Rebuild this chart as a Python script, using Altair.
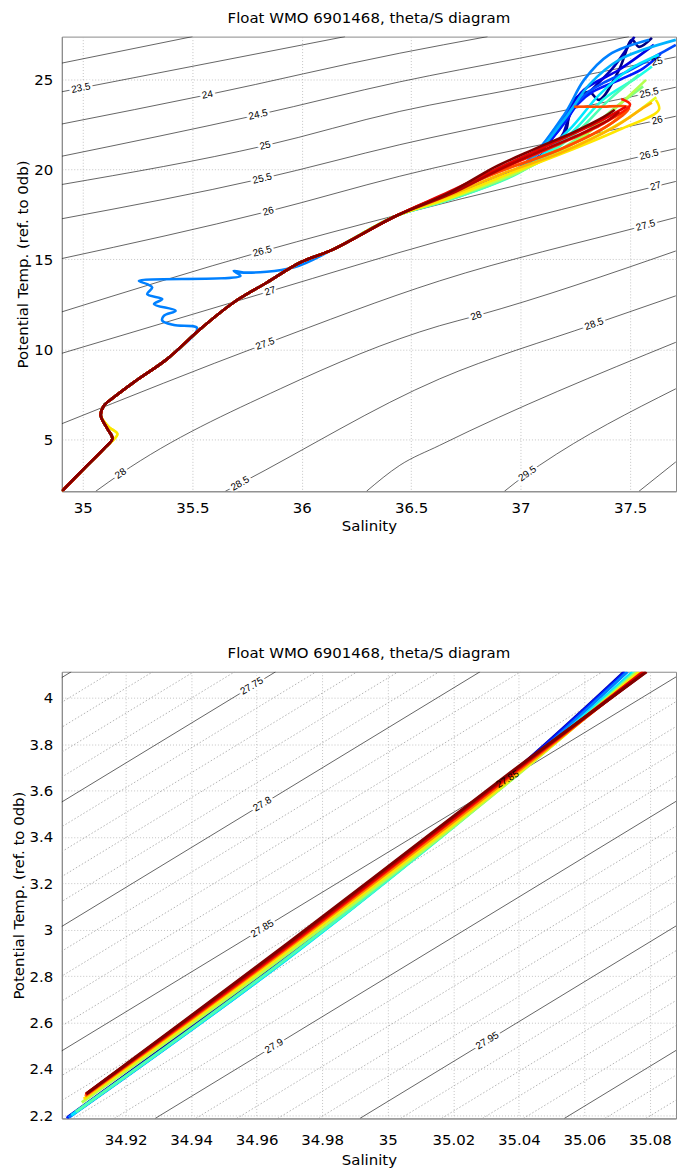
import altair as alt
import pandas as pd

TITLE = "Float WMO 6901468, theta/S diagram"
X_TITLE = "Salinity"
Y_TITLE = "Potential Temp. (ref. to 0db)"
FONT = "DejaVu Sans"

# ---------------- profile colours (jet colormap, early cycles -> late cycles)
prof_ids = ["p%02d" % k for k in range(21)]
prof_colors = ["#000080", "#0000b3", "#0000e6", "#001aff", "#004dff", "#0080ff", "#00b3ff",
               "#00e6ff", "#1affe6", "#4dffb3", "#80ff80", "#b3ff4d", "#e6ff1a", "#ffe600",
               "#ffb300", "#ff8000", "#ff4d00", "#ff1a00", "#e60000", "#b30000", "#800000"]

# ---------------- TOP PANEL
top_x_dom = [34.904, 37.71]
top_y_dom = [2.12, 27.36]
top_x_ticks = [35, 35.5, 36, 36.5, 37, 37.5]
top_y_ticks = [5, 10, 15, 20, 25]

# shared deep section (salinity, potential temperature)
deep_s = [34.904, 35.006, 35.097, 35.135, 35.112, 35.082, 35.097, 35.143, 35.234, 35.386,
          35.537, 35.689, 35.841, 35.993, 36.144, 36.43]
deep_t = [2.12, 3.38, 4.49, 5.04, 5.59, 6.33, 6.88, 7.35, 8.18, 9.47,
          11.13, 12.6, 13.71, 14.82, 15.55, 17.40]
# variant with the warm/salty blip near 5 degC (yellow cycles)
blip_s = [34.904, 35.006, 35.097, 35.158, 35.118, 35.082, 35.097, 35.143, 35.234, 35.386,
          35.537, 35.689, 35.841, 35.993, 36.144, 36.43]
blip_t = [2.12, 3.38, 4.49, 5.30, 5.70, 6.33, 6.88, 7.35, 8.18, 9.47,
          11.13, 12.6, 13.71, 14.82, 15.55, 17.40]
# profile with the fresh intrusion (deep section up to 9.5 degC, then this)
intr_s = [34.904, 35.006, 35.097, 35.135, 35.112, 35.082, 35.097, 35.143, 35.234, 35.386,
          35.522, 35.416, 35.363, 35.37, 35.424, 35.325, 35.363, 35.294, 35.317, 35.294,
          35.256, 35.72, 35.689, 35.735, 35.962, 36.144, 36.43]
intr_t = [2.12, 3.38, 4.49, 5.04, 5.59, 6.33, 6.88, 7.35, 8.18, 9.47,
          11.18, 11.35, 11.59, 11.86, 12.14, 12.51, 12.79, 13.06, 13.43, 13.62,
          13.80, 14.08, 14.35, 14.26, 14.54, 15.55, 17.40]

# upper (warm) sections of each profile
up_s = {
    "p00": [36.676, 36.995, 37.199, 37.222, 37.245, 37.313, 37.359, 37.450, 37.509, 37.541, 37.600],
    "p01": [36.676, 36.995, 37.186, 37.213, 37.240, 37.290, 37.340, 37.420, 37.480, 37.520],
    "p02": [36.676, 36.995, 37.177, 37.222, 37.290, 37.450, 37.609],
    "p03": [36.676, 36.995, 37.190, 37.260, 37.330, 37.460, 37.560, 37.640],
    "p04": [36.676, 36.995, 37.200, 37.300, 37.380, 37.500, 37.620, 37.709],
    "p05": [36.676, 36.995, 37.199, 37.290, 37.404, 37.587],
    "p06": [36.676, 36.995, 37.199, 37.313, 37.450, 37.709],
    "p07": [36.676, 36.995, 37.222, 37.359, 37.495, 37.632],
    "p08": [36.676, 36.995, 37.230, 37.380, 37.520, 37.600],
    "p09": [36.676, 36.995, 37.245, 37.404, 37.541],
    "p10": [36.676, 36.995, 37.260, 37.430, 37.560],
    "p11": [36.676, 36.995, 37.268, 37.450, 37.573],
    "p12": [36.676, 36.930, 37.200, 37.460, 37.620],
    "p13": [36.676, 36.903, 37.177, 37.450, 37.632, 37.618],
    "p14": [36.676, 36.915, 37.190, 37.430, 37.560, 37.600],
    "p15": [36.676, 36.903, 37.177, 37.404, 37.495],
    "p16": [36.676, 36.903, 37.177, 37.404, 37.495, 37.359, 37.245],
    "p17": [36.676, 36.910, 37.150, 37.380, 37.500, 37.460],
    "p18": [36.676, 36.903, 37.131, 37.359, 37.482],
    "p19": [36.676, 36.903, 37.086, 37.268, 37.404, 37.450],
    "p20": [36.676, 36.880, 37.060, 37.250, 37.380, 37.430],
}
up_t = {
    "p00": [18.54, 19.98, 21.92, 23.03, 23.85, 24.30, 23.85, 25.52, 27.18, 26.79, 27.29],
    "p01": [18.50, 20.00, 21.80, 22.60, 23.40, 24.00, 24.60, 25.60, 26.60, 27.36],
    "p02": [18.54, 20.09, 22.19, 23.30, 24.41, 25.52, 26.90],
    "p03": [18.50, 20.05, 22.40, 23.60, 24.30, 25.00, 25.60, 26.40],
    "p04": [18.50, 20.00, 22.90, 24.20, 24.80, 25.50, 26.30, 26.90],
    "p05": [18.54, 20.09, 23.03, 24.96, 26.35, 27.18],
    "p06": [18.43, 19.98, 22.75, 24.68, 26.07, 27.18],
    "p07": [18.31, 19.87, 22.19, 24.13, 25.52, 26.35],
    "p08": [18.35, 19.85, 22.00, 23.90, 25.00, 25.70],
    "p09": [18.31, 19.81, 21.92, 23.85, 25.24],
    "p10": [18.35, 19.85, 21.70, 23.40, 24.60],
    "p11": [18.37, 19.87, 21.64, 23.57, 24.96],
    "p12": [18.40, 19.65, 21.00, 22.60, 24.00],
    "p13": [18.43, 19.54, 20.81, 22.19, 23.30, 23.85],
    "p14": [18.55, 19.75, 20.95, 22.35, 23.40, 23.70],
    "p15": [18.70, 19.87, 21.08, 22.46, 23.41],
    "p16": [18.70, 19.87, 21.08, 22.46, 23.41, 23.47, 23.47],
    "p17": [18.70, 20.00, 21.25, 22.55, 23.60, 23.90],
    "p18": [18.76, 20.09, 21.36, 22.64, 23.47],
    "p19": [18.60, 19.98, 20.98, 21.92, 22.75, 23.19],
    "p20": [18.70, 20.10, 21.10, 22.10, 22.90, 23.30],
}
deep_choice = {"p05": (intr_s, intr_t), "p12": (blip_s, blip_t), "p13": (blip_s, blip_t)}

# isopycnals of the top panel (sigma-theta)
top_cont = {
    "23": ([34.904, 35.501], [25.89, 27.36]),
    "23.5": ([34.904, 36.198], [24.30, 27.36]),
    "24": ([34.904, 35.569, 36.448, 36.849], [22.51, 24.13, 26.44, 27.36]),
    "24.5": ([34.904, 35.801, 36.448, 36.995, 37.495], [20.72, 23.02, 24.85, 26.16, 27.36]),
    "25": ([34.904, 35.833, 36.448, 36.995, 37.709], [19.15, 21.31, 23.21, 24.50, 26.23]),
    "25.5": ([34.904, 35.820, 36.448, 37.587, 37.709], [17.25, 19.48, 21.36, 24.23, 24.55]),
    "26": ([34.904, 35.847, 36.448, 37.623, 37.709], [15.04, 17.66, 19.61, 22.71, 22.94]),
    "26.5": ([34.904, 35.820, 36.448, 37.587, 37.709], [12.08, 15.44, 17.49, 20.81, 21.14]),
    "27": ([34.904, 35.856, 36.630, 37.372, 37.709], [9.78, 13.23, 16.01, 18.32, 19.32]),
    "27.5": ([34.904, 35.833, 36.630, 37.571, 37.709], [5.87, 10.30, 13.80, 16.88, 17.32]),
    "28": ([35.059, 35.173, 35.902, 36.630, 36.797, 37.709], [2.12, 3.10, 7.81, 11.31, 11.86, 15.46]),
    "28.5": ([35.651, 35.719, 36.630, 37.336, 37.709], [2.12, 2.55, 8.36, 11.40, 12.97]),
    "29": ([36.296, 36.448, 36.630, 37.709], [2.12, 3.56, 4.67, 10.39]),
    "29.5": ([36.926, 37.031, 37.086, 37.709], [2.12, 3.10, 3.56, 7.81]),
    "30": ([37.541, 37.709], [2.12, 3.75]),
}
top_lab_text = ["23.5", "24", "24.5", "25", "25.5", "26", "26.5", "27", "27.5", "28", "28.5",
                "25", "25.5", "26", "26.5", "27", "27.5", "28", "28.5", "29.5"]
top_lab_s = [34.991, 35.569, 35.801, 35.833, 35.820, 35.847, 35.820, 35.856, 35.833, 35.173, 35.719,
             37.624, 37.587, 37.624, 37.587, 37.617, 37.571, 36.797, 37.336, 37.031]
top_lab_t = [24.50, 24.13, 23.02, 21.31, 19.48, 17.66, 15.44, 13.23, 10.30, 3.10, 2.55,
             25.97, 24.23, 22.71, 20.81, 19.06, 16.88, 11.86, 11.40, 3.10]
top_lab_ang = [349, 349, 348, 347, 346, 345, 345, 343, 340, 325, 330,
               349, 348, 348, 346, 346, 344, 340, 340, 325]

# ---------------- BOTTOM PANEL
bot_x_dom = [34.9005, 35.088]
bot_y_dom = [2.186, 4.112]
bot_x_ticks = [34.92, 34.94, 34.96, 34.98, 35.0, 35.02, 35.04, 35.06, 35.08]
bot_y_ticks = [2.2, 2.4, 2.6, 2.8, 3.0, 3.2, 3.4, 3.6, 3.8, 4.0]

bot_ids = ["p01", "p03", "p05", "p07", "p09", "p11", "p13", "p15", "p17", "p18", "p19", "p20"]
bot_s = {
    "p01": [34.9022, 34.9700, 35.0368, 35.0722],
    "p03": [34.9020, 34.9708, 35.0368, 35.0726],
    "p05": [34.9026, 34.9712, 35.0372, 35.0732],
    "p07": [34.9034, 34.9716, 35.0374, 35.0748],
    "p09": [34.9048, 34.9716, 35.0376, 35.0756],
    "p11": [34.9066, 34.9712, 35.0378, 35.0762],
    "p13": [34.9072, 34.9706, 35.0376, 35.0768],
    "p15": [34.9076, 34.9702, 35.0372, 35.0778],
    "p17": [34.9078, 34.9700, 35.0368, 35.0784],
    "p18": [34.9078, 34.9698, 35.0366, 35.0780],
    "p19": [34.9080, 34.9696, 35.0364, 35.0788],
    "p20": [34.9080, 34.9694, 35.0362, 35.0790],
}
bot_t = {
    "p01": [2.190, 2.900, 3.660, 4.112],
    "p03": [2.186, 2.895, 3.656, 4.112],
    "p05": [2.190, 2.895, 3.652, 4.112],
    "p07": [2.200, 2.898, 3.648, 4.112],
    "p09": [2.215, 2.902, 3.646, 4.112],
    "p11": [2.255, 2.915, 3.646, 4.112],
    "p13": [2.270, 2.922, 3.650, 4.112],
    "p15": [2.282, 2.928, 3.654, 4.112],
    "p17": [2.288, 2.932, 3.658, 4.112],
    "p18": [2.290, 2.935, 3.660, 4.112],
    "p19": [2.292, 2.938, 3.662, 4.112],
    "p20": [2.293, 2.940, 3.664, 4.112],
}

# isopycnals: salinity where each crosses T=2.186 (bottom) and T=4.112 (top)
bot_t_ends = [2.186, 4.112]
solid_lev = ["27.7", "27.75", "27.8", "27.85", "27.9", "27.95", "28"]
solid_sb = [34.6794, 34.7418, 34.8042, 34.8666, 34.9290, 34.9915, 35.0539]
solid_st = [34.9034, 34.9658, 35.0282, 35.0906, 35.1530, 35.2155, 35.2779]
dot_sb = [34.6918, 34.7043, 34.7168, 34.7293, 34.7542, 34.7667, 34.7792, 34.7917,
          34.8166, 34.8291, 34.8416, 34.8541, 34.8790, 34.8915, 34.9040, 34.9165,
          34.9414, 34.9539, 34.9664, 34.9789, 35.0039, 35.0164, 35.0289, 35.0414,
          35.0663, 35.0788]
dot_st = [34.9158, 34.9283, 34.9408, 34.9533, 34.9782, 34.9907, 35.0032, 35.0157,
          35.0406, 35.0531, 35.0656, 35.0781, 35.1030, 35.1155, 35.1280, 35.1405,
          35.1654, 35.1779, 35.1904, 35.2029, 35.2279, 35.2404, 35.2529, 35.2654,
          35.2903, 35.3028]
bot_lab_text = ["27.75", "27.8", "27.85", "27.85", "27.9", "27.95"]
bot_lab_s = [34.9585, 34.9617, 34.9617, 35.0366, 34.9653, 35.0304]
bot_lab_t = [4.050, 3.541, 3.004, 3.648, 2.498, 2.521]
bot_lab_ang = [329, 329, 329, 329, 329, 329]


# ---------------- build tables
def prof_table(ids, s_map, t_map, base=None, special=None):
    rows = []
    for k, pid in enumerate(ids):
        if base is not None:
            ps, pt = special.get(pid, base)
            ss, tt = ps + s_map[pid], pt + t_map[pid]
        else:
            ss, tt = s_map[pid], t_map[pid]
        for i, (s, t) in enumerate(zip(ss, tt)):
            rows.append({"prof": pid, "ord": k, "i": i, "S": s, "T": t})
    return pd.DataFrame(rows)


top_prof = prof_table(prof_ids, up_s, up_t, (deep_s, deep_t), deep_choice)
bot_prof = prof_table(bot_ids, bot_s, bot_t)

top_cont_df = pd.DataFrame([
    {"lev": lev, "i": i, "S": s, "T": t}
    for lev, (ss, tt) in top_cont.items() for i, (s, t) in enumerate(zip(ss, tt))
])
top_lab_df = pd.DataFrame({"txt": top_lab_text, "S": top_lab_s, "T": top_lab_t, "ang": top_lab_ang})

bot_solid_df = pd.DataFrame([
    {"lev": lev, "i": i, "S": s, "T": bot_t_ends[i]}
    for lev, sb, st in zip(solid_lev, solid_sb, solid_st) for i, s in enumerate([sb, st])
])
bot_dot_df = pd.DataFrame([
    {"lev": str(j), "i": i, "S": s, "T": bot_t_ends[i]}
    for j, (sb, st) in enumerate(zip(dot_sb, dot_st)) for i, s in enumerate([sb, st])
])
bot_lab_df = pd.DataFrame({"txt": bot_lab_text, "S": bot_lab_s, "T": bot_lab_t, "ang": bot_lab_ang})


def panel(prof_df, solid_df, lab_df, xdom, ydom, xticks, yticks, width, height,
          dot_df=None, prof_w=2.0, xlab_pad=9, xtitle_pad=3):
    xenc = alt.X("S:Q", scale=alt.Scale(domain=xdom, nice=False, zero=False),
                 axis=alt.Axis(values=xticks, format="~g", title=X_TITLE,
                               labelPadding=xlab_pad, titlePadding=xtitle_pad))
    yenc = alt.Y("T:Q", scale=alt.Scale(domain=ydom, nice=False, zero=False),
                 axis=alt.Axis(values=yticks, format="~g", title=Y_TITLE))
    layers = []
    if dot_df is not None:
        layers.append(alt.Chart(dot_df).mark_line(clip=True, color="#a0a0a0", strokeWidth=0.8,
                                                  strokeDash=[1.5, 2]).encode(
            x=xenc, y=yenc, detail="lev:N", order="i:Q"))
    layers.append(alt.Chart(solid_df).mark_line(clip=True, color="#222222", strokeWidth=0.7,
                                                interpolate="monotone").encode(
        x=xenc, y=yenc, detail="lev:N", order="i:Q"))
    layers.append(alt.Chart(lab_df).mark_text(font="Liberation Sans", fontSize=10, color="white",
                                              stroke="white", strokeWidth=5, clip=True).encode(
        x=xenc, y=yenc, text="txt:N", angle=alt.Angle("ang:Q", scale=None)))
    layers.append(alt.Chart(prof_df).mark_line(clip=True, strokeWidth=prof_w, strokeJoin="round",
                                               interpolate="catmull-rom").encode(
        x=xenc, y=yenc, detail="prof:N", order="i:Q",
        color=alt.Color("prof:N", scale=alt.Scale(domain=prof_ids, range=prof_colors), legend=None)))
    layers.append(alt.Chart(lab_df).mark_text(font="Liberation Sans", fontSize=10, color="black",
                                              clip=True).encode(
        x=xenc, y=yenc, text="txt:N", angle=alt.Angle("ang:Q", scale=None)))
    return alt.layer(*layers).properties(
        width=width, height=height,
        title=alt.TitleParams(TITLE, font=FONT, fontSize=15, fontWeight="normal", offset=11))


# draw early cycles first so late (red) ones are on top
top_prof = top_prof.sort_values(["ord", "i"])
top = panel(top_prof, top_cont_df, top_lab_df, top_x_dom, top_y_dom, top_x_ticks, top_y_ticks, 616, 456,
            prof_w=2.6)
bot = panel(bot_prof, bot_solid_df, bot_lab_df, bot_x_dom, bot_y_dom, bot_x_ticks, bot_y_ticks, 616, 448,
            dot_df=bot_dot_df, prof_w=3.0, xlab_pad=14, xtitle_pad=5)

chart = alt.vconcat(top, bot, spacing=181, bounds="flush").properties(
    padding={"left": 10, "top": 8, "right": 0, "bottom": 2}
).configure_view(stroke="#8a8a8a", strokeWidth=1).configure_axis(
    grid=True, gridDash=[1, 2], gridColor="#b5b5b5", gridWidth=0.8,
    domain=True, domainColor="#8a8a8a", ticks=False,
    labelFont=FONT, labelFontSize=15, labelColor="black", labelPadding=9,
    titleFont=FONT, titleFontSize=15, titleFontWeight="normal", titleColor="black", titlePadding=3,
).configure_title(anchor="middle", color="black")

chart.save("out.html", embed_options={"renderer": "svg", "actions": False})
